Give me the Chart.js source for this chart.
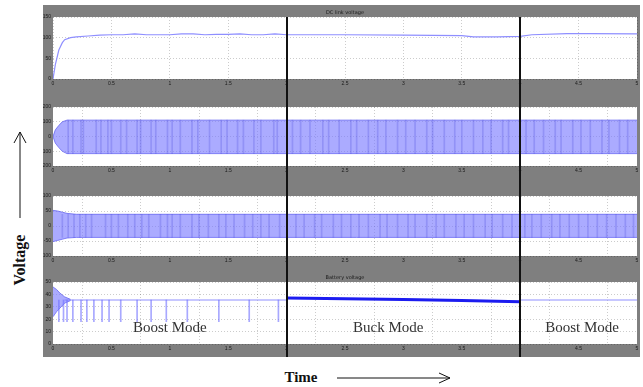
<!DOCTYPE html>
<html>
<head>
<meta charset="utf-8">
<script src="https://cdn.jsdelivr.net/npm/chart.js@4/dist/chart.umd.min.js"></script>
<style>
  body { margin: 0; width: 643px; height: 387px; background: #fff; position: relative; overflow: hidden; font-family: "Liberation Serif", serif; }
  #fig { position: absolute; left: 43px; top: 5px; width: 597px; height: 352px; background: #7f7f7f; }
  #fig canvas { position: absolute; left: 0; }
  #ylab { position: absolute; left: 20px; top: 260px; transform: translate(-50%, -50%) rotate(-90deg); font-weight: bold; font-size: 16px; color: #111; white-space: nowrap; }
  #xlab { position: absolute; left: 301px; top: 377px; transform: translate(-50%, -50%); font-weight: bold; font-size: 15px; color: #111; }
  svg { position: absolute; left: 0; top: 0; }
</style>
</head>
<body>
<div id="fig">
  <canvas id="p1" width="597" height="90" style="top:0px"></canvas>
  <canvas id="p2" width="597" height="86" style="top:90px"></canvas>
  <canvas id="p3" width="597" height="89" style="top:176px"></canvas>
  <canvas id="p4" width="597" height="87" style="top:265px"></canvas>
</div>
<div id="ylab">Voltage</div>
<div id="xlab">Time</div>
<svg width="643" height="387">
  <g stroke="#111" stroke-width="1" fill="none">
    <line x1="20" y1="218" x2="20" y2="132"/>
    <polyline points="14,143 20,132 26,143"/>
    <line x1="337" y1="378" x2="450" y2="378"/>
    <polyline points="439,373 450,378 439,383"/>
  </g>
</svg>
<script>
// time axis (s) and mode changes
const xTicksStep = 0.5;
const modeSwitch = [2, 4];
const modeLabels = ["Boost Mode", "Buck Mode", "Boost Mode"];
const modeLabelAt = [1, 2.87, 4.53];
const modeLabelLevel = 13;

// panel 1: DC link voltage
const dcTime = [0, 0.02, 0.05, 0.08, 0.1, 0.15, 0.2, 0.3, 0.4, 0.5, 0.6, 0.7, 0.8, 0.9, 1.0, 1.1, 1.2, 1.3, 1.4, 1.5, 1.6, 1.7, 1.8, 1.9, 2.0, 2.5, 3.0, 3.5, 3.6, 3.8, 4.0, 4.1, 4.4, 4.6, 5.0];
const dcVolt = [0, 35, 70, 88, 95, 100, 102, 104, 106, 107, 107, 109, 107, 107, 107, 109, 109, 107, 108, 108, 109, 107, 107, 109, 107, 107, 106, 105, 102, 102, 103, 107, 110, 110, 109];

// panel 2: switching voltage envelope + dark stripes
const acTime = [0, 0.02, 0.05, 0.08, 0.12, 5];
const acUpper = [0, 45, 75, 100, 111, 111];
const acLower = [0, -45, -75, -100, -116, -116];
const acStripes = [0.13, 0.17, 0.24, 0.26, 0.37, 0.41, 0.47, 0.5, 0.58, 0.63, 0.72, 0.75, 0.84, 0.88, 0.98, 1.02, 1.09, 1.19, 1.24, 1.34, 1.44, 1.49, 1.58, 1.63, 1.72, 1.78, 1.89, 1.92,
  2.05, 2.12, 2.2, 2.31, 2.36, 2.45, 2.55, 2.6, 2.7, 2.78, 2.85, 2.95, 3.02, 3.1, 3.2, 3.25, 3.35, 3.44, 3.5, 3.6, 3.68, 3.75, 3.85, 3.9,
  4.05, 4.12, 4.2, 4.3, 4.35, 4.45, 4.52, 4.6, 4.7, 4.76, 4.85, 4.92];

// panel 3: inverter voltage envelope + dark stripes
const invTime = [0, 0.04, 0.08, 0.12, 0.2, 5];
const invUpper = [52, 50, 46, 42, 39, 39];
const invLower = [-52, -48, -44, -40, -38, -38];
const invStripes = [0.08, 0.13, 0.18, 0.23, 0.28, 0.33, 0.45, 0.5, 0.56, 0.64, 0.7, 0.76, 0.82, 0.92, 0.98, 1.02, 1.09, 1.19, 1.25, 1.33, 1.42, 1.48, 1.55, 1.64, 1.71, 1.78, 1.85, 1.94,
  2.08, 2.15, 2.24, 2.3, 2.4, 2.47, 2.55, 2.62, 2.7, 2.8, 2.86, 2.95, 3.04, 3.1, 3.2, 3.28, 3.35, 3.45, 3.52, 3.6, 3.7, 3.76, 3.85, 3.93,
  4.04, 4.1, 4.18, 4.27, 4.34, 4.42, 4.5, 4.58, 4.66, 4.74, 4.82, 4.9, 4.97];

// panel 4: battery voltage
const batStartTime = [0, 0.03, 0.06, 0.1, 0.15];
const batStartUpper = [46, 44, 41, 38, 36];
const batStartLower = [22, 26, 29, 33, 35];
const boostTime1 = [0.1, 2.0];
const boostVolt1 = [35.5, 35.5];
const buckTime = [2.0, 2.5, 3.0, 3.5, 4.0];
const buckVolt = [37, 36.5, 35.8, 35, 34];
const boostTime2 = [4.0, 5.0];
const boostVolt2 = [35.5, 35.5];
const spikeTimes = [0.05, 0.09, 0.12, 0.17, 0.24, 0.29, 0.35, 0.42, 0.48, 0.58, 0.72, 0.84, 0.97, 1.15, 1.42, 1.68, 1.93];
const spikeLow = 18;

const lineBlue = "#8f8fff";
const bandFill = "rgba(120,120,255,0.62)";
const bandEdge = "rgba(100,100,240,0.8)";
const stripeBlue = "rgba(60,60,215,0.22)";

const pts = (xs, ys) => xs.map((x, i) => ({ x: x, y: ys[i] }));

// white plot area, panel title, black mode-change lines, mode text
const scopePlugin = {
    id: "scope",
    beforeDraw(chart) {
        const { ctx, chartArea: a } = chart;
        ctx.save();
        ctx.fillStyle = "#fff";
        ctx.fillRect(a.left, a.top, a.right - a.left, a.bottom - a.top);
        ctx.restore();
    },
    afterDraw(chart, args, opts) {
        const { ctx, chartArea: a, scales } = chart;
        ctx.save();
        if (opts.modes) {
            ctx.font = '15px "Liberation Serif"';
            ctx.fillStyle = "#333";
            ctx.textAlign = "center";
            ctx.textBaseline = "middle";
            modeLabels.forEach((m, i) => {
                ctx.fillText(m, scales.x.getPixelForValue(modeLabelAt[i]), scales.y.getPixelForValue(modeLabelLevel));
            });
        }
        if (opts.title) {
            ctx.font = '5px "DejaVu Sans"';
            ctx.fillStyle = "#1a1a1a";
            ctx.textAlign = "center";
            ctx.textBaseline = "bottom";
            ctx.fillText(opts.title, (a.left + a.right) / 2, a.top - 2);
        }
        ctx.strokeStyle = "#111";
        ctx.lineWidth = 2;
        modeSwitch.forEach(t => {
            const px = Math.round(scales.x.getPixelForValue(t));
            ctx.beginPath();
            ctx.moveTo(px, opts.first ? a.top : 0);
            ctx.lineTo(px, chart.height);
            ctx.stroke();
        });
        ctx.restore();
    }
};

function makePanel(id, p) {
    return new Chart(document.getElementById(id), {
        type: "line",
        data: { datasets: p.datasets },
        options: {
            responsive: false,
            animation: false,
            layout: { padding: { top: p.padTop, bottom: p.padBottom, left: 0, right: 3 } },
            elements: { point: { radius: 0 }, line: { tension: 0 } },
            plugins: {
                legend: { display: false },
                tooltip: { enabled: false },
                scope: { title: p.title, modes: p.modes, first: p.first }
            },
            scales: {
                x: {
                    type: "linear", min: 0, max: 5, offset: false,
                    ticks: { stepSize: xTicksStep, font: { size: 5 }, color: "#1a1a1a", padding: 2, maxRotation: 0,
                             callback: v => String(Math.round(v * 10) / 10) },
                    grid: { color: "rgba(0,0,0,0.2)", drawTicks: false },
                    border: { display: false, dash: [1, 2] },
                    afterFit: s => { s.height = 10; s.paddingLeft = 0; s.paddingRight = 0; }
                },
                y: {
                    min: p.ymin, max: p.ymax,
                    ticks: { stepSize: p.ystep, font: { size: 5 }, color: "#1a1a1a", padding: 2 },
                    grid: { color: "rgba(0,0,0,0.2)", drawTicks: false },
                    border: { display: false, dash: [1, 2] },
                    afterFit: s => { s.width = 10; s.paddingTop = 0; s.paddingBottom = 0; }
                }
            }
        },
        plugins: [scopePlugin]
    });
}

// DC link voltage
makePanel("p1", {
    ymin: 0, ymax: 150, ystep: 50, padTop: 12, padBottom: 6, title: "DC link voltage", first: true,
    datasets: [{ data: pts(dcTime, dcVolt), borderColor: lineBlue, borderWidth: 1.2 }]
});

// switching voltage
makePanel("p2", {
    ymin: -200, ymax: 200, ystep: 100, padTop: 12, padBottom: 5,
    datasets: [
        { type: "bar", data: acStripes.map(t => ({ x: t, y: [acLower[acLower.length - 1], acUpper[acUpper.length - 1]] })), backgroundColor: stripeBlue, barThickness: 1 },
        { data: pts(acTime, acUpper), borderColor: bandEdge, borderWidth: 1, fill: "+1", backgroundColor: bandFill },
        { data: pts(acTime, acLower), borderColor: bandEdge, borderWidth: 1 }
    ]
});

// inverter voltage
makePanel("p3", {
    ymin: -100, ymax: 100, ystep: 50, padTop: 15, padBottom: 4,
    datasets: [
        { type: "bar", data: invStripes.map(t => ({ x: t, y: [invLower[invLower.length - 1], invUpper[invUpper.length - 1]] })), backgroundColor: stripeBlue, barThickness: 1 },
        { data: pts(invTime, invUpper), borderColor: bandEdge, borderWidth: 1, fill: "+1", backgroundColor: bandFill },
        { data: pts(invTime, invLower), borderColor: bandEdge, borderWidth: 1 }
    ]
});

// battery voltage
makePanel("p4", {
    ymin: 0, ymax: 50, ystep: 10, padTop: 12, padBottom: 3, title: "Battery voltage", modes: true,
    datasets: [
        { type: "bar", data: spikeTimes.map(t => ({ x: t, y: [spikeLow, boostVolt1[0]] })), backgroundColor: "rgba(110,110,255,0.6)", barThickness: 1 },
        { data: pts(batStartTime, batStartUpper), borderColor: bandEdge, borderWidth: 1, fill: "+1", backgroundColor: bandFill },
        { data: pts(batStartTime, batStartLower), borderColor: bandEdge, borderWidth: 1 },
        { data: pts(boostTime1, boostVolt1), borderColor: lineBlue, borderWidth: 1.2 },
        { data: pts(buckTime, buckVolt), borderColor: "#1c1cf0", borderWidth: 3 },
        { data: pts(boostTime2, boostVolt2), borderColor: lineBlue, borderWidth: 1.2 }
    ]
});
</script>
</body>
</html>
